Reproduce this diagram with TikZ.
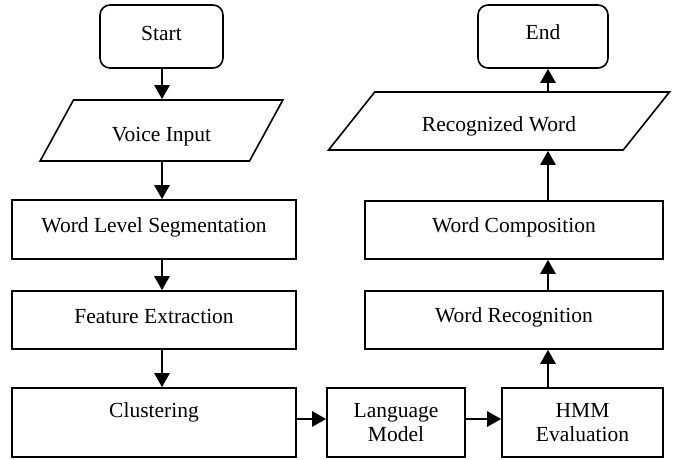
\documentclass[tikz,border=0pt]{standalone}
\usepackage{fontspec}
\setmainfont{Liberation Serif}
\usetikzlibrary{arrows.meta,shapes.geometric}
\newcommand{\shifttxt}[2]{\raisebox{#1}[\height][\depth]{#2}}
\begin{document}
\begin{tikzpicture}[x=1pt,y=-1pt,
  every node/.style={font=\fontsize{21.5}{24}\selectfont, inner sep=0pt, align=center},
  box/.style={draw, line width=1.6pt, rectangle},
  term/.style={box, rounded corners=10pt},
  io/.style={draw, line width=1.6pt, trapezium, trapezium stretches=true},
  flow/.style={line width=2.6pt, -{Triangle[length=14pt,width=15pt]}}]
\useasboundingbox (0,0) rectangle (684,459);
% left column
\node[term, minimum width=123pt, minimum height=63pt] (start) at (161.5,36.5) {\shifttxt{3pt}{Start}};
\node[io, trapezium left angle=45, trapezium right angle=135, minimum width=243pt, minimum height=61pt] (voice) at (161.5,130.5) {\shifttxt{-6pt}{Voice Input}};
\node[box, minimum width=284pt, minimum height=59pt] (wls) at (154,229.5) {\shifttxt{2pt}{Word Level Segmentation}};
\node[box, minimum width=284pt, minimum height=58pt] (fe) at (154,320) {\shifttxt{4pt}{Feature Extraction}};
\node[box, minimum width=284pt, minimum height=69pt] (cl) at (154,422.5) {\shifttxt{10pt}{Clustering}};
% bottom row
\node[box, minimum width=138pt, minimum height=69pt] (lm) at (396,422.5) {\shifttxt{-2pt}{\begin{tabular}{@{}c@{}}Language\\Model\end{tabular}}};
\node[box, minimum width=161pt, minimum height=69pt] (hmm) at (582.5,422.5) {\shifttxt{-2pt}{\begin{tabular}{@{}c@{}}HMM\\Evaluation\end{tabular}}};
% right column
\node[box, minimum width=298pt, minimum height=58pt] (wr) at (514,320) {\shifttxt{3pt}{Word Recognition}};
\node[box, minimum width=298pt, minimum height=58pt] (wc) at (514,230) {\shifttxt{3pt}{Word Composition}};
\node[io, trapezium left angle=34.3, trapezium right angle=145.7, minimum width=342pt, minimum height=58pt] (rw) at (499,121) {\shifttxt{-5pt}{Recognized Word}};
\node[term, minimum width=130pt, minimum height=63pt] (end) at (543,36.5) {\shifttxt{4pt}{End}};
% column guides
\coordinate (lc) at (162,0);
\coordinate (rc) at (548,0);
\coordinate (hr) at (0,419);
% arrows
\draw[flow] (start.south -| lc) -- (voice.north -| lc);
\draw[flow] (voice.south -| lc) -- (wls.north -| lc);
\draw[flow] (wls.south -| lc) -- (fe.north -| lc);
\draw[flow] (fe.south -| lc) -- (cl.north -| lc);
\draw[flow] (cl.east |- hr) -- (lm.west |- hr);
\draw[flow] (lm.east |- hr) -- (hmm.west |- hr);
\draw[flow] (hmm.north -| rc) -- (wr.south -| rc);
\draw[flow] (wr.north -| rc) -- (wc.south -| rc);
\draw[flow] (wc.north -| rc) -- (rw.south -| rc);
\draw[flow] (rw.north -| rc) -- (end.south -| rc);
\end{tikzpicture}
\end{document}
